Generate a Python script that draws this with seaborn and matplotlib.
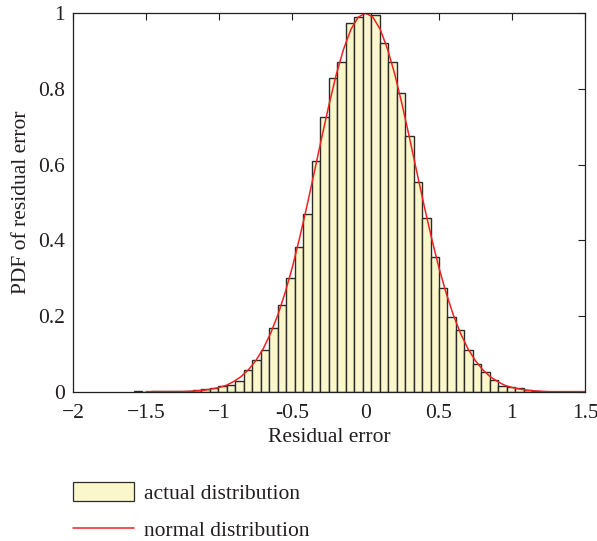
import numpy as np
import pandas as pd
import matplotlib
matplotlib.use("Agg")
import matplotlib.pyplot as plt
import seaborn as sns
from matplotlib.patches import Patch
from matplotlib.lines import Line2D

# ---------------- data ----------------
bin_start = -1.586
bin_width = 0.058
bar_heights = [0.003, 0.001, 0.002, 0.002, 0.002, 0.003, 0.003, 0.004, 0.007,
               0.011, 0.016, 0.018, 0.030, 0.058, 0.084, 0.111, 0.168, 0.229,
               0.302, 0.382, 0.470, 0.610, 0.725, 0.828, 0.870, 0.973, 0.989,
               0.999, 0.996, 0.920, 0.870, 0.790, 0.675, 0.553, 0.458, 0.355,
               0.274, 0.199, 0.164, 0.111, 0.074, 0.052, 0.032, 0.016, 0.014,
               0.011, 0.005, 0.002, 0.001]

curve_x = [-1.50, -1.45, -1.40, -1.35, -1.30, -1.25, -1.20, -1.15, -1.10, -1.05,
           -1.00, -0.95, -0.90, -0.85, -0.80, -0.75, -0.70, -0.65, -0.60, -0.55,
           -0.50, -0.45, -0.40, -0.35, -0.30, -0.25, -0.20, -0.15, -0.10, -0.05,
           0.00, 0.05, 0.10, 0.15, 0.20, 0.25, 0.30, 0.35, 0.40, 0.45,
           0.50, 0.55, 0.60, 0.65, 0.70, 0.75, 0.80, 0.85, 0.90, 0.95,
           1.00, 1.05, 1.10, 1.15, 1.20, 1.25, 1.30, 1.35, 1.40, 1.45, 1.50]
curve_y = [0.001, 0.001, 0.001, 0.001, 0.001, 0.001, 0.002, 0.003, 0.005, 0.008,
           0.012, 0.018, 0.028, 0.041, 0.059, 0.083, 0.114, 0.154, 0.203, 0.262,
           0.330, 0.408, 0.492, 0.581, 0.671, 0.758, 0.838, 0.905, 0.957, 0.989,
           1.000, 0.989, 0.957, 0.905, 0.838, 0.758, 0.671, 0.581, 0.492, 0.408,
           0.330, 0.262, 0.203, 0.154, 0.114, 0.083, 0.059, 0.041, 0.028, 0.018,
           0.012, 0.008, 0.005, 0.003, 0.002, 0.001, 0.001, 0.001, 0.001, 0.001, 0.001]

x_ticks = [-2, -1.5, -1, -0.5, 0, 0.5, 1, 1.5]
x_tick_labels = ["\u22122", "\u22121.5", "\u22121", "-0.5", "0", "0.5", "1", "1.5"]
y_ticks = [0, 0.2, 0.4, 0.6, 0.8, 1]
y_tick_labels = ["0", "0.2", "0.4", "0.6", "0.8", "1"]

x_label = "Residual error"
y_label = "PDF of residual error"
legend_labels = ["actual distribution", "normal distribution"]

# ---------------- style ----------------
bar_fill = "#FAF7CB"
bar_edge = "#2b2b2b"
line_red = "#EE2222"
ink = "#231f20"
fs = 15.5

sns.set_theme(style="white")
plt.rcParams['font.family'] = ['Liberation Serif', 'DejaVu Serif']
plt.rcParams['axes.edgecolor'] = ink
plt.rcParams['text.color'] = ink
plt.rcParams['axes.labelcolor'] = ink
plt.rcParams['xtick.color'] = ink
plt.rcParams['ytick.color'] = ink

fig = plt.figure(figsize=(5.97, 5.41), dpi=100)
ax = fig.add_axes([73 / 597, 1 - 392 / 541, 512 / 597, 379 / 541])

n_bins = len(bar_heights)
centers = bin_start + bin_width * (np.arange(n_bins) + 0.5)
df = pd.DataFrame({"x": centers, "h": bar_heights})

sns.histplot(data=df, x="x", weights="h", binwidth=bin_width,
             binrange=(bin_start, bin_start + bin_width * n_bins), stat="count",
             color=bar_fill, edgecolor=bar_edge, linewidth=1.0, alpha=1.0, ax=ax)
sns.lineplot(x=curve_x, y=curve_y, color=line_red, linewidth=1.1, ax=ax)

ax.set_xlim(-2, 1.5)
ax.set_ylim(0, 1)
ax.set_xticks(x_ticks)
ax.set_xticklabels(x_tick_labels)
ax.set_yticks(y_ticks)
ax.set_yticklabels(y_tick_labels)
ax.tick_params(direction="in", top=True, right=True, length=5, width=0.8,
               labelsize=fs)
ax.tick_params(axis="x", pad=8.5)
ax.tick_params(axis="y", pad=6)
for s in ax.spines.values():
    s.set_linewidth(0.9)
    s.set_visible(True)
ax.set_xlabel(x_label, fontsize=fs, labelpad=4)
ax.set_ylabel(y_label, fontsize=fs, labelpad=5)

handles = [Patch(facecolor=bar_fill, edgecolor=bar_edge, linewidth=0.9),
           Line2D([], [], color=line_red, linewidth=1.1)]
fig.legend(handles=handles, labels=legend_labels, loc="upper left",
           bbox_to_anchor=(73 / 597, 1 - 482 / 541), frameon=False,
           fontsize=fs, handlelength=2.85, handleheight=0.95, handletextpad=0.45,
           labelspacing=0.72, borderpad=0, borderaxespad=0)

fig.savefig("out.png", dpi=100)
